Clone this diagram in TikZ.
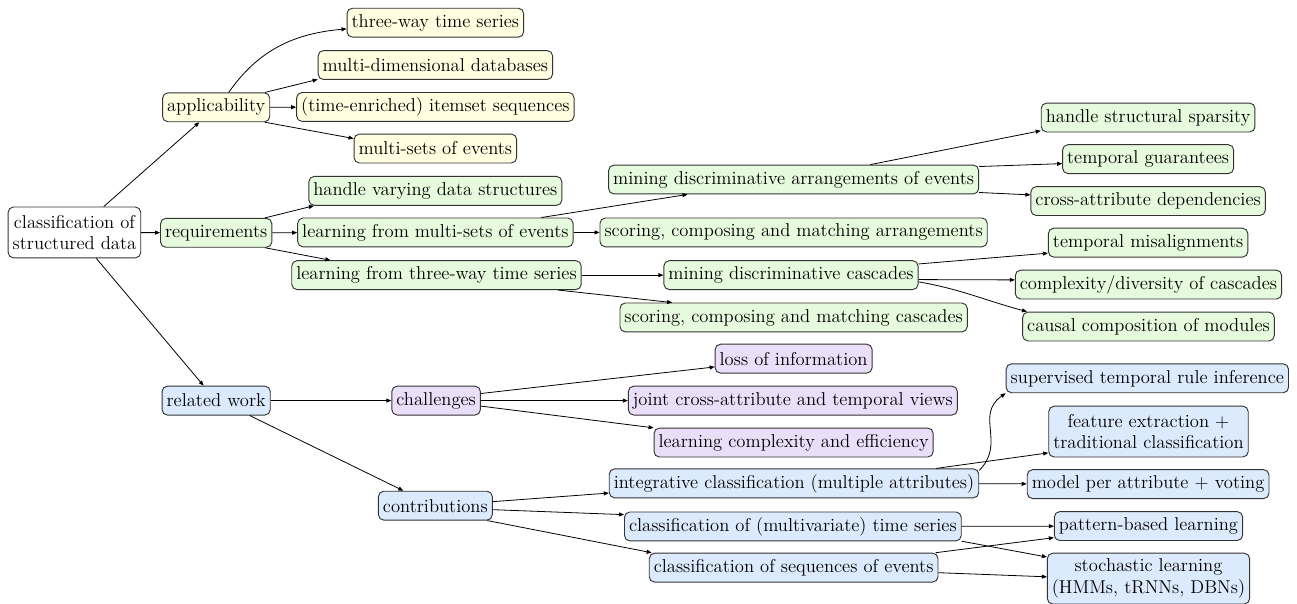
\documentclass[tikz,border=0pt]{standalone}
\usepackage{fontspec}
\usetikzlibrary{arrows.meta}
\definecolor{ylwfill}{HTML}{FFFEE0}
\definecolor{grnfill}{HTML}{E6FBDD}
\definecolor{prpfill}{HTML}{EADFF8}
\definecolor{blufill}{HTML}{DCEAFD}

\begin{document}
\begin{tikzpicture}[
    >={Triangle[length=3.8pt, width=3pt]},
    box/.style={
        rectangle, rounded corners=4pt, draw=black!80, line width=0.7pt,
        font=\fontsize{14}{16.3}\selectfont, align=center,
        inner xsep=3.4pt, inner ysep=2pt, minimum height=21.75pt
    },
    tallbox/.style={minimum height=38.25pt},
    rootbox/.style={box, tallbox, fill=white},
    applic/.style={box, fill=ylwfill},
    requir/.style={box, fill=grnfill},
    challbox/.style={box, fill=prpfill},
    workbox/.style={box, fill=blufill},
    link/.style={->, line width=0.6pt, black},
]
\useasboundingbox (0,0) rectangle (34.32,-15.98);

% ── Root and first level ──
\node[rootbox] (root)    at (1.97,-6.15)  {classification of\\structured data};
\node[applic]  (appl)    at (5.72,-2.84)  {applicability};
\node[requir]  (req)     at (5.72,-6.16)  {requirements};
\node[workbox] (related) at (5.72,-10.60) {related work};

% ── Applicability ──
\node[applic] (threeway)  at (11.52,-0.60) {three-way time series};
\node[applic] (multidim)  at (11.52,-1.72) {multi-dimensional databases};
\node[applic] (itemset)   at (11.52,-2.83) {(time-enriched) itemset sequences};
\node[applic] (multisets) at (11.52,-3.93) {multi-sets of events};

% ── Requirements ──
\node[requir] (handlevar) at (11.52,-5.05) {handle varying data structures};
\node[requir] (lms)       at (11.52,-6.15) {learning from multi-sets of events};
\node[requir] (l3w)       at (11.55,-7.28) {learning from three-way time series};
\node[requir] (minarr)    at (21.00,-4.75) {mining discriminative arrangements of events};
\node[requir] (scorarr)   at (21.00,-6.15) {scoring, composing and matching arrangements};
\node[requir] (mincasc)   at (20.93,-7.28) {mining discriminative cascades};
\node[requir] (scorcasc)  at (21.00,-8.40) {scoring, composing and matching cascades};
\node[requir] (sparsity)  at (30.38,-3.11) {handle structural sparsity};
\node[requir] (guarant)   at (30.38,-4.21) {temporal guarantees};
\node[requir] (crossdep)  at (30.38,-5.32) {cross-attribute dependencies};
\node[requir] (misalign)  at (30.38,-6.42) {temporal misalignments};
\node[requir] (complex)   at (30.39,-7.53) {complexity/diversity of cascades};
\node[requir] (causal)    at (30.39,-8.64) {causal composition of modules};

% ── Related work ──
\node[challbox] (challenges) at (11.54,-10.60) {challenges};
\node[challbox] (loss)       at (21.00,-9.49)  {loss of information};
\node[challbox] (joint)      at (20.98,-10.60) {joint cross-attribute and temporal views};
\node[challbox] (lcomp)      at (21.00,-11.71) {learning complexity and efficiency};
\node[workbox]  (contrib)    at (11.52,-13.38) {contributions};
\node[workbox]  (integr)     at (21.01,-12.79) {integrative classification (multiple attributes)};
\node[workbox]  (multiv)     at (20.98,-13.93) {classification of (multivariate) time series};
\node[workbox]  (seqev)      at (21.00,-15.02) {classification of sequences of events};
\node[workbox]  (supervised) at (30.36,-10.01) {supervised temporal rule inference};
\node[workbox, tallbox] (featext) at (30.39,-11.42) {feature extraction +\\traditional classification};
\node[workbox]  (modelper)   at (30.38,-12.81) {model per attribute + voting};
\node[workbox]  (patbased)   at (30.39,-13.92) {pattern-based learning};
\node[workbox, tallbox] (stoch) at (30.39,-15.31) {stochastic learning\\(HMMs, tRNNs, DBNs)};

% ── Connectors ──
\draw[link] (root) -- (appl);
\draw[link] (root) -- (req);
\draw[link] (root) -- (related);

\draw[link] (appl.50) to[out=55, in=185] (threeway.184);
\draw[link] (appl.17) -- (multidim.187);
\draw[link] (appl) -- (itemset);
\draw[link] (appl.-17) -- (multisets.173);

\draw[link] (req.17) -- (handlevar.187);
\draw[link] (req) -- (lms);
\draw[link] (req.-17) -- (l3w.172);
\draw[link] (lms.8) -- (minarr.188);
\draw[link] (lms) -- (scorarr);
\draw[link] (l3w) -- (mincasc);
\draw[link] (l3w.-7) -- (scorcasc.173);
\draw[link] (minarr.11) -- (sparsity.187);
\draw[link] (minarr.4) -- (guarant.183);
\draw[link] (minarr.-4) -- (crossdep.177);
\draw[link] (mincasc.5) -- (misalign.186);
\draw[link] (mincasc.-2) -- (complex.178);
\draw[link] (mincasc.-3) to[out=-10, in=165] (causal.173);

\draw[link] (related) -- (challenges);
\draw[link] (related.-24) -- (contrib.155);
\draw[link] (challenges.9) -- (loss.186);
\draw[link] (challenges) -- (joint);
\draw[link] (challenges.-7) -- (lcomp.174);
\draw[link] (contrib.4) -- (integr.183);
\draw[link] (contrib.-4) -- (multiv.176);
\draw[link] (contrib.-16) -- (seqev.174);
\draw[link] (integr.4) to[out=45, in=215, looseness=1.2] (supervised.186);
\draw[link] (integr.6) -- (featext.192);
\draw[link] (integr) -- (modelper);
\draw[link] (multiv) -- (patbased);
\draw[link] (multiv.-5) -- (stoch.168);
\draw[link] (seqev.6) -- (patbased.187);
\draw[link] (seqev.-2) -- (stoch.179);

\end{tikzpicture}
\end{document}
